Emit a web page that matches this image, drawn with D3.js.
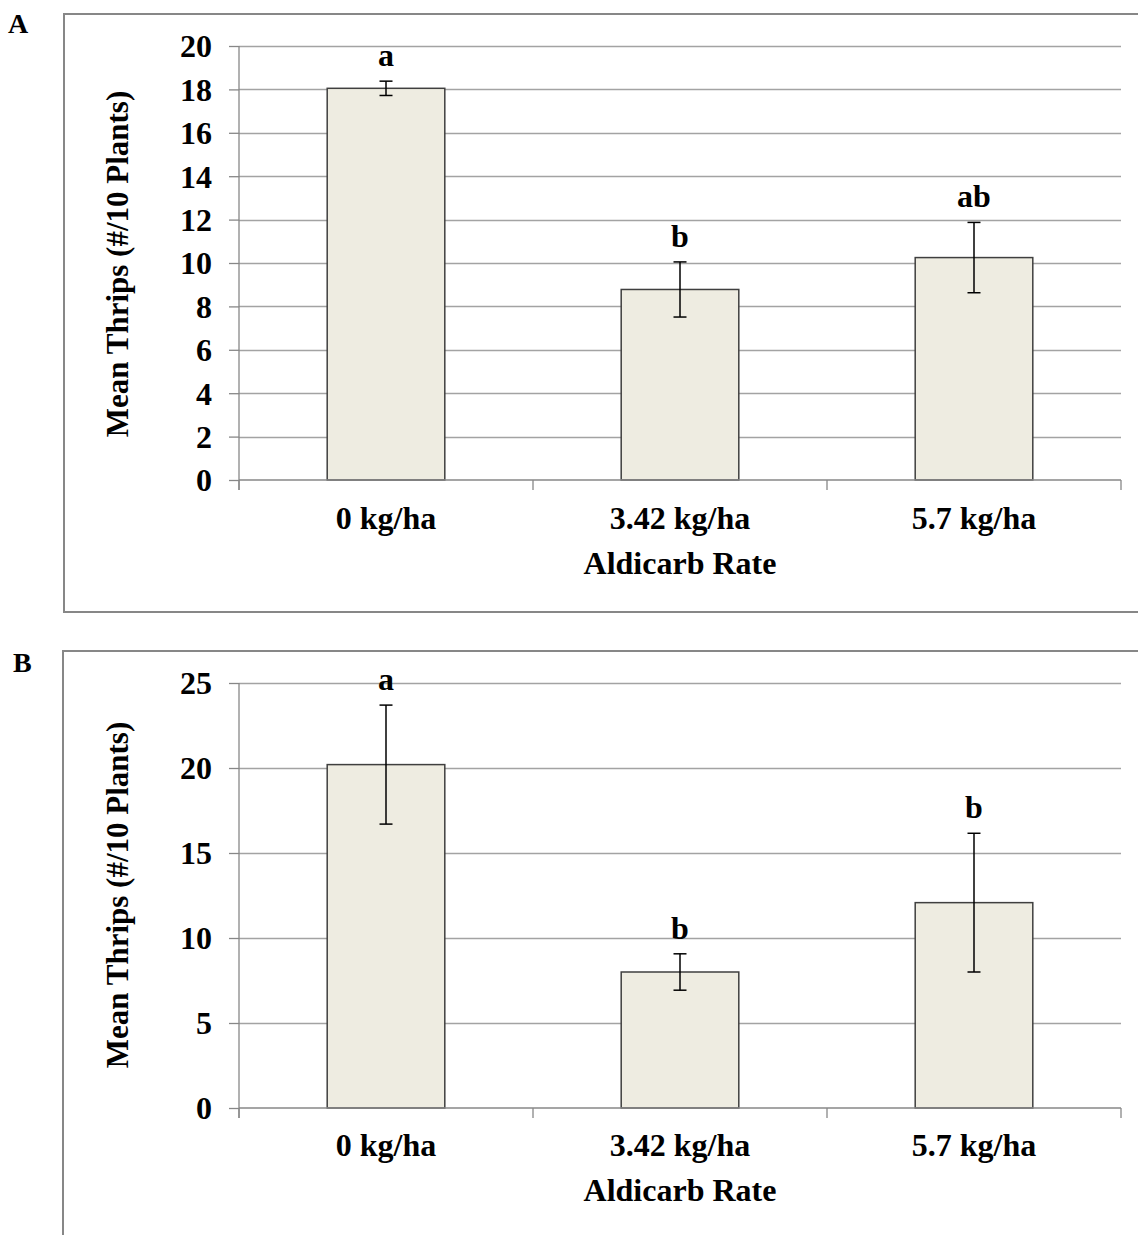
<!DOCTYPE html>
<html>
<head>
<meta charset="utf-8">
<script src="https://cdn.jsdelivr.net/npm/d3@7/dist/d3.min.js"></script>
<style>
  html, body { margin: 0; padding: 0; background: #fff; }
  svg text { font-family: "Liberation Serif", "Times New Roman", serif; font-weight: bold; fill: #000; }
</style>
</head>
<body>
<svg id="chart" width="1138" height="1235"></svg>
<script>
// ---------- data ----------
const categories = ["0 kg/ha", "3.42 kg/ha", "5.7 kg/ha"];

const meansA   = [18.05, 8.78, 10.25];
const errorsA  = [0.33, 1.27, 1.62];
const lettersA = ["a", "b", "ab"];
const ticksA   = [0, 2, 4, 6, 8, 10, 12, 14, 16, 18, 20];

const meansB   = [20.2, 8.0, 12.08];
const errorsB  = [3.5, 1.07, 4.08];
const lettersB = ["a", "b", "b"];
const ticksB   = [0, 5, 10, 15, 20, 25];

const panelLabels = ["A", "B"];
const xTitle = "Aldicarb Rate";
const yTitle = "Mean Thrips (#/10 Plants)";

// ---------- drawing ----------
const svg = d3.select("#chart");
const FS = 32;

function drawPanel(opt) {
  const g = svg.append("g");
  // frame
  g.append("rect")
    .attr("x", opt.frame[0]).attr("y", opt.frame[1])
    .attr("width", opt.frame[2]).attr("height", opt.frame[3])
    .attr("fill", "none").attr("stroke", "#878787").attr("stroke-width", 2);
  // panel letter
  g.append("text").attr("x", opt.labelPos[0]).attr("y", opt.labelPos[1])
    .style("font-size", "28px").text(opt.label);

  const x = d3.scaleBand().domain(categories)
    .range([opt.left, opt.right]).paddingInner(0.6).paddingOuter(0.3);
  const y = d3.scaleLinear().domain([0, opt.ticks[opt.ticks.length - 1]])
    .range([opt.bottom, opt.top]);

  // gridlines
  g.append("g").selectAll("line").data(opt.ticks.filter(t => t > 0)).join("line")
    .attr("x1", opt.left).attr("x2", opt.right)
    .attr("y1", d => Math.round(y(d)) + 0.5).attr("y2", d => Math.round(y(d)) + 0.5)
    .attr("stroke", "#a3a3a3").attr("stroke-width", 1.3);

  // y axis
  const ya = g.append("g").attr("transform", `translate(${opt.left},0)`)
    .call(d3.axisLeft(y).tickValues(opt.ticks).tickSize(10).tickPadding(17).tickFormat(d3.format("d")));
  ya.select(".domain").remove();
  ya.selectAll(".tick line").attr("stroke", "#878787").attr("stroke-width", 1.3);
  ya.selectAll(".tick text").style("font-size", FS + "px").attr("dy", "0.34em");
  g.append("line").attr("x1", opt.left).attr("x2", opt.left)
    .attr("y1", opt.top).attr("y2", opt.bottom + 10)
    .attr("stroke", "#878787").attr("stroke-width", 1.3);

  // bars
  const xs = categories.map((c, i) => ({ c, m: opt.means[i], e: opt.errors[i], l: opt.letters[i] }));
  g.append("g").selectAll("rect").data(xs).join("rect")
    .attr("x", d => x(d.c)).attr("width", x.bandwidth())
    .attr("y", d => y(d.m)).attr("height", d => y(0) - y(d.m))
    .attr("fill", "#EEECE1").attr("stroke", "#3f3f3f").attr("stroke-width", 1.5);

  // x axis line + boundary ticks
  g.append("line").attr("x1", opt.left).attr("x2", opt.right)
    .attr("y1", opt.bottom).attr("y2", opt.bottom)
    .attr("stroke", "#878787").attr("stroke-width", 1.5);
  const bounds = d3.range(categories.length + 1).map(i => opt.left + i * x.step());
  g.append("g").selectAll("line").data(bounds).join("line")
    .attr("x1", d => d).attr("x2", d => d)
    .attr("y1", opt.bottom).attr("y2", opt.bottom + 10)
    .attr("stroke", "#878787").attr("stroke-width", 1.3);

  // category labels
  const xa = g.append("g").attr("transform", `translate(0,${opt.bottom})`)
    .call(d3.axisBottom(x).tickSize(0).tickPadding(0));
  xa.select(".domain").remove();
  xa.selectAll(".tick text").attr("y", opt.catBaseline - opt.bottom).attr("dy", 0)
    .style("font-size", FS + "px");

  // error bars
  const eb = g.append("g").attr("stroke", "#000").attr("stroke-width", 1.5);
  xs.forEach(d => {
    const cx = x(d.c) + x.bandwidth() / 2;
    const y1 = y(d.m + d.e), y2 = y(d.m - d.e);
    eb.append("line").attr("x1", cx).attr("x2", cx).attr("y1", y1).attr("y2", y2);
    eb.append("line").attr("x1", cx - 6.5).attr("x2", cx + 6.5).attr("y1", y1).attr("y2", y1);
    eb.append("line").attr("x1", cx - 6.5).attr("x2", cx + 6.5).attr("y1", y2).attr("y2", y2);
  });

  // significance letters
  g.append("g").selectAll("text").data(xs).join("text")
    .attr("x", d => x(d.c) + x.bandwidth() / 2)
    .attr("y", d => y(d.m + d.e) - 15)
    .attr("text-anchor", "middle").style("font-size", FS + "px").text(d => d.l);

  // axis titles
  g.append("text").attr("x", (opt.left + opt.right) / 2).attr("y", opt.titleBaseline)
    .attr("text-anchor", "middle").style("font-size", FS + "px").text(xTitle);
  g.append("text")
    .attr("transform", `translate(${opt.yTitleX},${opt.yTitleY}) rotate(-90)`)
    .attr("text-anchor", "middle").style("font-size", "31px").text(yTitle);
}

drawPanel({
  label: panelLabels[0], labelPos: [8, 33],
  frame: [64, 14, 1100, 598],
  left: 239, right: 1121, top: 46, bottom: 480,
  ticks: ticksA, means: meansA, errors: errorsA, letters: lettersA,
  catBaseline: 529, titleBaseline: 574, yTitleX: 128, yTitleY: 264
});

drawPanel({
  label: panelLabels[1], labelPos: [13, 672],
  frame: [63, 651, 1100, 620],
  left: 239, right: 1121, top: 683, bottom: 1108,
  ticks: ticksB, means: meansB, errors: errorsB, letters: lettersB,
  catBaseline: 1156, titleBaseline: 1201, yTitleX: 128, yTitleY: 895
});
</script>
</body>
</html>
